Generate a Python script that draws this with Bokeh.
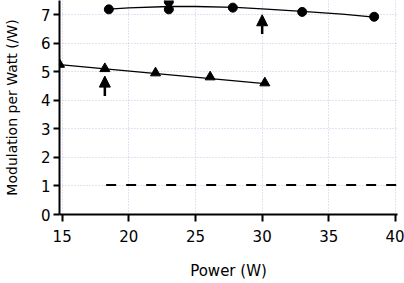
from bokeh.plotting import figure
from bokeh.models import Range1d, FixedTicker, Arrow, NormalHead, ColumnDataSource
from bokeh.embed import file_html
from bokeh.resources import INLINE

# Measured modulation per watt (circles: upper series, triangles: lower series)
circle_power = [18.5, 23.0, 23.0, 27.8, 33.0, 38.4]
circle_mod = [7.19, 7.19, 7.46, 7.25, 7.10, 6.93]

triangle_power = [14.8, 18.2, 22.0, 26.1, 30.2]
triangle_mod = [5.26, 5.11, 4.96, 4.82, 4.61]

# Fitted trend through each series
circle_fit_power = [18.5, 20.0, 23.0, 25.0, 28.0, 30.0, 33.0, 36.0, 38.4]
circle_fit_mod = [7.20, 7.24, 7.29, 7.29, 7.26, 7.21, 7.12, 7.02, 6.92]

triangle_fit_power = [14.8, 30.2]
triangle_fit_mod = [5.25, 4.59]

# Reference level
baseline_power = [18.3, 40.15]
baseline_mod = [1.03, 1.03]

# Markers pointing at the operating points
arrow_power = [18.2, 30.0]
arrow_tail = [4.15, 6.33]
arrow_tip = [4.85, 7.0]

x_ticks = [15, 20, 25, 30, 35, 40]
y_ticks = [0, 1, 2, 3, 4, 5, 6, 7]

FONT = "DejaVu Sans"

p = figure(width=404, height=283, output_backend="svg", toolbar_location=None,
           x_range=Range1d(14.8, 40.15), y_range=Range1d(0, 7.5),
           min_border_left=59, min_border_right=7, min_border_top=0,
           min_border_bottom=69)
p.outline_line_color = None
p.background_fill_color = "white"
p.border_fill_color = "white"

for g in (p.xgrid, p.ygrid):
    g.grid_line_color = "#c4c4e6"
    g.grid_line_dash = "1 2"
    g.grid_line_width = 1

p.xaxis.ticker = FixedTicker(ticks=x_ticks)
p.yaxis.ticker = FixedTicker(ticks=y_ticks)

for ax in (p.xaxis, p.yaxis):
    ax.axis_line_width = 2
    ax.axis_line_color = "black"
    ax.major_tick_line_width = 2
    ax.major_tick_line_color = "black"
    ax.minor_tick_line_color = None
    ax.major_tick_in = 0
    ax.major_label_text_font = FONT
    ax.major_label_text_font_size = "15px"
    ax.major_label_text_color = "black"
    ax.axis_label_text_font = FONT
    ax.axis_label_text_font_style = "normal"
    ax.axis_label_text_color = "black"

p.xaxis.major_tick_out = 7
p.xaxis.major_label_standoff = 8
p.xaxis.axis_label = "Power (W)"
p.xaxis.axis_label_text_font_size = "15px"
p.xaxis.axis_label_standoff = 17

p.yaxis.major_tick_out = 6
p.yaxis.major_label_standoff = 3
p.yaxis.axis_label = "Modulation per Watt (/W)"
p.yaxis.axis_label_text_font_size = "14px"
p.yaxis.axis_label_standoff = 18

# Dashed reference line
p.line(baseline_power, baseline_mod, line_color="black", line_width=2,
       line_dash="10 10")

# Trend lines
p.line(circle_fit_power, circle_fit_mod, line_color="black", line_width=1.3)
p.line(triangle_fit_power, triangle_fit_mod, line_color="black", line_width=1.3)

# Data points
p.scatter(circle_power, circle_mod, marker="circle", size=9,
          fill_color="black", line_color="black")
p.scatter(triangle_power, triangle_mod, marker="triangle", size=10,
          fill_color="black", line_color="black")

arrows = ColumnDataSource(dict(x=arrow_power, y0=arrow_tail, y1=arrow_tip))
p.add_layout(Arrow(x_start="x", y_start="y0", x_end="x", y_end="y1",
                   source=arrows, line_width=2.5, line_color="black",
                   end=NormalHead(size=11, fill_color="black",
                                  line_color="black")))

open("out.html", "w").write(file_html(p, INLINE))
